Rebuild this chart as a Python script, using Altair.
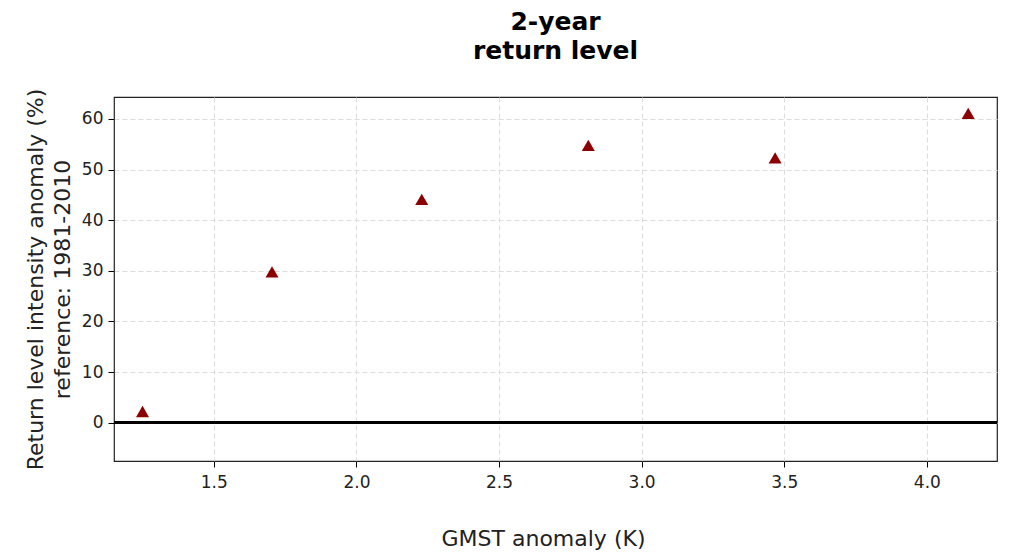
import altair as alt
import pandas as pd

# data
gmst = [1.25, 1.704, 2.229, 2.813, 3.468, 4.145]
anomaly = [2.2, 29.8, 44.1, 54.8, 52.3, 61.1]
x_ticks = [1.5, 2.0, 2.5, 3.0, 3.5, 4.0]
y_ticks = [0, 10, 20, 30, 40, 50, 60]
title_lines = ["2-year", "return level"]
y_title = ["Return level intensity anomaly (%)", "reference: 1981-2010"]
x_title = "GMST anomaly (K)"

df = pd.DataFrame({"gmst": gmst, "anomaly": anomaly})

W, H = 883, 364
FONT = "DejaVu Sans"

x_scale = alt.Scale(domain=[1.15, 4.246], nice=False, zero=False)
y_scale = alt.Scale(domain=[-7.58, 64.34], nice=False, zero=False)

x_axis = alt.Axis(values=x_ticks, format=".1f", title=x_title,
                  titleX=429, titleY=77, titleBaseline="middle", titleAnchor="start",
                  titleAlign="center", labelPadding=7)
y_axis = alt.Axis(values=y_ticks, format="d", title=y_title,
                  titleX=-79, titleY=H / 2, titleAngle=270, titleBaseline="middle",
                  titleAlign="center", titleAnchor="start", titleLineHeight=27,
                  labelPadding=5)

zero_rule = alt.Chart(df).mark_rule(color="black", strokeWidth=2.6).encode(
    y=alt.Y(datum=0, scale=y_scale, axis=y_axis),
)

points = alt.Chart(df).mark_point(
    shape="triangle-up", filled=True, size=170, color="#8b0000", opacity=1
).encode(
    x=alt.X("gmst:Q", scale=x_scale, axis=x_axis),
    y=alt.Y("anomaly:Q", scale=y_scale, axis=y_axis),
)

chart = alt.layer(zero_rule, points).properties(
    width=W,
    height=H,
    autosize="none",
    padding={"left": 106, "top": 89, "right": 3, "bottom": 90},
    title=alt.TitleParams(
        text=title_lines, fontSize=25, font=FONT, fontWeight="bold",
        anchor="middle", lineHeight=29, baseline="bottom", offset=-1, color="black",
        frame="group",
    ),
).configure_view(
    stroke="#222", strokeWidth=1.2
).configure_axis(
    domain=False, grid=True, gridColor="#dcdcdc", gridDash=[5, 3], gridWidth=1,
    tickColor="black", tickSize=6, tickWidth=1,
    labelFont=FONT, labelFontSize=17, labelColor="#222",
    titleFont=FONT, titleFontSize=22, titleFontWeight="normal", titleColor="#222",
)

chart.save("out.html", embed_options={"renderer": "svg", "actions": False})
